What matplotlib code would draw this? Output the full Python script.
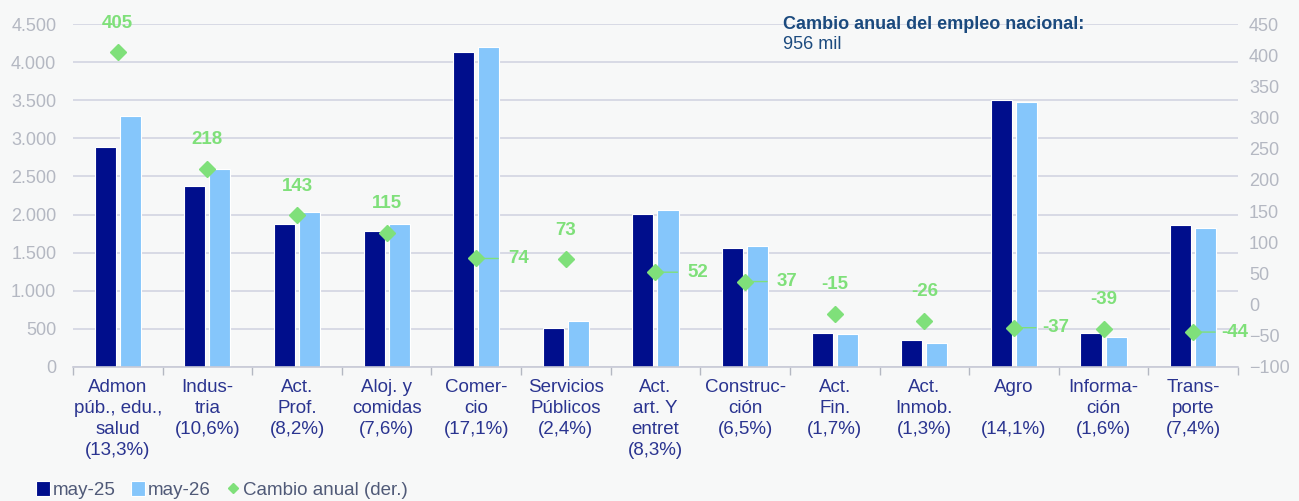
import matplotlib.pyplot as plt
import numpy as np

plt.rcParams['font.family'] = ['Liberation Sans', 'DejaVu Sans']

categorias = ['Admon\npúb., edu.,\nsalud\n(13,3%)', 'Indus-\ntria\n(10,6%)', 'Act.\nProf.\n(8,2%)',
              'Aloj. y\ncomidas\n(7,6%)', 'Comer-\ncio\n(17,1%)', 'Servicios\nPúblicos\n(2,4%)',
              'Act.\nart. Y\nentret\n(8,3%)', 'Construc-\nción\n(6,5%)', 'Act.\nFin.\n(1,7%)',
              'Act.\nInmob.\n(1,3%)', 'Agro\n\n(14,1%)', 'Informa-\nción\n(1,6%)', 'Trans-\nporte\n(7,4%)']
may25 = [2885, 2380, 1875, 1780, 4130, 510, 2010, 1555, 445, 350, 3505, 445, 1860]
may26 = [3290, 2600, 2030, 1875, 4200, 600, 2065, 1590, 430, 310, 3480, 395, 1825]
cambio = [405, 218, 143, 115, 74, 73, 52, 37, -15, -26, -37, -39, -44]
# etiquetas que van a la derecha con linea guia
a_derecha = [False, False, False, False, True, False, True, True, False, False, True, False, True]

c_osc = '#000E8C'
c_cla = '#85C6FB'
c_verde = '#7FE07A'
c_gris = '#B4B8C2'
c_texto = '#2A3490'
fondo = '#F7F8F8'

fig = plt.figure(figsize=(12.99, 5.01), dpi=100, facecolor=fondo)
ax = fig.add_axes([0.0562, 0.2675, 0.8968, 0.6845])
ax.set_facecolor(fondo)
x = np.arange(len(categorias))
w = 0.235
ax.bar(x - 0.14, may25, w, color=c_osc, edgecolor='white', linewidth=0.8, label='may-25', zorder=2)
ax.bar(x + 0.14, may26, w, color=c_cla, edgecolor='white', linewidth=0.8, label='may-26', zorder=2)
ax.set_ylim(0, 4500)
ax.set_yticks(np.arange(0, 4501, 500))
ax.set_yticklabels([f'{v:,}'.replace(',', '.') for v in range(0, 4501, 500)])
ax.grid(axis='y', color='#D2D4E2', linewidth=1.2, zorder=0)
ax.set_axisbelow(True)
ax.set_xlim(-0.5, len(categorias) - 0.5)
ax.set_xticks(x)
ax.set_xticklabels(categorias, fontsize=13.5, color=c_texto, linespacing=1.3, va='top')
ax.set_xticks(np.arange(-0.5, len(categorias)), minor=True)
ax.tick_params(axis='x', which='major', length=0, pad=9)
ax.tick_params(axis='x', which='minor', length=6, color=c_gris, width=1)
ax.tick_params(axis='y', length=0, labelsize=13, labelcolor=c_gris, pad=12)
for s in ['top', 'left', 'right']:
    ax.spines[s].set_visible(False)
ax.spines['bottom'].set_color('#C8CAD6')
ax.spines['bottom'].set_linewidth(1.2)

ax2 = ax.twinx()
ax2.set_ylim(-100, 450)
ax2.set_yticks(np.arange(-100, 451, 50))
ax2.tick_params(axis='y', length=0, labelsize=13, labelcolor=c_gris, pad=8)
for s in ['top', 'left', 'right', 'bottom']:
    ax2.spines[s].set_visible(False)
ax2.plot(x, cambio, linestyle='none', marker='D', markersize=8, color=c_verde,
         markeredgecolor=c_verde, label='Cambio anual (der.)', zorder=4)

for i, v in enumerate(cambio):
    if a_derecha[i]:
        ax2.annotate('', xy=(i, v), xytext=(22, 0), textcoords='offset pixels',
                     arrowprops=dict(arrowstyle='-', color=c_verde, lw=1, shrinkA=0, shrinkB=0))
        ax2.annotate(str(v), xy=(i, v), xytext=(42, 0), textcoords='offset pixels',
                     ha='center', va='center', fontsize=13.5, fontweight='bold', color=c_verde)
    else:
        ax2.annotate(str(v), xy=(i, v), xytext=(0, 29), textcoords='offset pixels',
                     ha='center', va='center', fontsize=13.5, fontweight='bold', color=c_verde)

fig.text(0.603, 0.952, 'Cambio anual del empleo nacional:', fontsize=13, fontweight='bold',
         color='#1B4A7E', va='center')
fig.text(0.603, 0.912, '956 mil', fontsize=13, color='#1B4A7E', va='center')

h1, l1 = ax.get_legend_handles_labels()
h2, l2 = ax2.get_legend_handles_labels()
fig.legend(h1 + h2, l1 + l2, loc='lower left', bbox_to_anchor=(0.015, -0.03), ncol=3,
           frameon=False, fontsize=13.5, handlelength=0.75, handleheight=0.9, handletextpad=0.15,
           columnspacing=0.8, labelcolor='#505A78', markerscale=0.7)

fig.savefig('out.png', dpi=100, facecolor=fondo)
